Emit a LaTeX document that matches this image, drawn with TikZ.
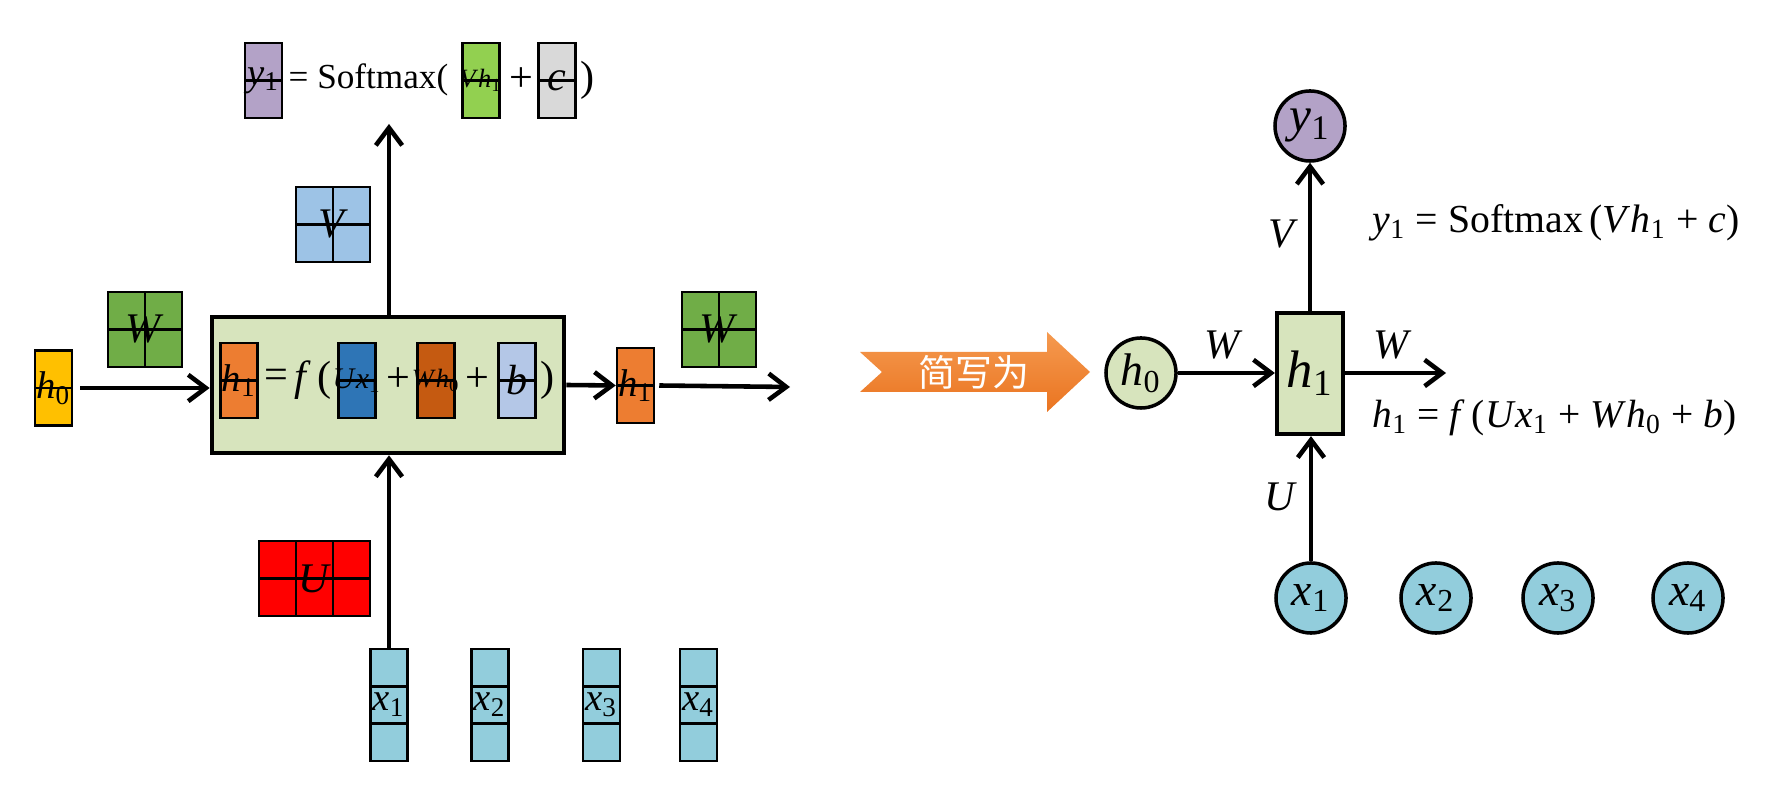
\documentclass[tikz,border=0pt]{standalone}
\usepackage{fontspec}
\setmainfont{Liberation Serif}[ItalicFont={Liberation Serif Italic}]
\newfontfamily\cjk{Noto Sans CJK SC}
\usetikzlibrary{arrows.meta,calc}
\newcommand{\iv}[2]{\textit{#1}\textsubscript{#2}}
\newcommand{\fsz}[1]{\fontsize{#1}{#1}\selectfont}
\newcommand{\zb}[1]{\makebox[0pt]{#1}}
\definecolor{cYel}{HTML}{FFC000}
\definecolor{cWg}{HTML}{70AD47}
\definecolor{cBig}{HTML}{D7E4BD}
\definecolor{cOr}{HTML}{ED7D31}
\definecolor{cBl}{HTML}{2E75B6}
\definecolor{cDor}{HTML}{C55A11}
\definecolor{cLb}{HTML}{B4C7E7}
\definecolor{cV}{HTML}{9DC3E6}
\definecolor{cPu}{HTML}{B3A2C7}
\definecolor{cGr}{HTML}{92D050}
\definecolor{cGy}{HTML}{D9D9D9}
\definecolor{cX}{HTML}{92CDDC}
\definecolor{cArT}{HTML}{F59A50}
\definecolor{cArB}{HTML}{EA7420}
\tikzset{
  bl/.style={line width=0.7pt},
  cellbox/.style={draw, bl, inner sep=0pt, minimum width=0.37cm, minimum height=0.75cm, font=\fsz{11}},
  hline/.style={path picture={\draw[bl] (path picture bounding box.west) -- (path picture bounding box.east);}},
  sqgrid/.style={draw, bl, inner sep=0pt, minimum width=0.74cm, minimum height=0.75cm, font=\fsz{12},
    path picture={\draw[bl] (path picture bounding box.west) -- (path picture bounding box.east)
      (path picture bounding box.north) -- (path picture bounding box.south);}},
  ugrid/.style={draw, bl, inner sep=0pt, minimum width=1.11cm, minimum height=0.75cm, font=\fsz{12},
    path picture={\draw[bl] (path picture bounding box.west) -- (path picture bounding box.east)
      ($(path picture bounding box.north west)!1/3!(path picture bounding box.north east)$) -- ($(path picture bounding box.south west)!1/3!(path picture bounding box.south east)$)
      ($(path picture bounding box.north west)!2/3!(path picture bounding box.north east)$) -- ($(path picture bounding box.south west)!2/3!(path picture bounding box.south east)$);}},
  xgrid/.style={draw, bl, fill=cX, inner sep=0pt, minimum width=0.37cm, minimum height=1.12cm, font=\fsz{11},
    path picture={\draw[bl]
      ($(path picture bounding box.north west)!1/3!(path picture bounding box.south west)$) -- ($(path picture bounding box.north east)!1/3!(path picture bounding box.south east)$)
      ($(path picture bounding box.north west)!2/3!(path picture bounding box.south west)$) -- ($(path picture bounding box.north east)!2/3!(path picture bounding box.south east)$);}},
  txt/.style={inner sep=0pt, font=\fsz{12}},
  arr/.style={-{Straight Barb[length=5pt,width=7.5pt]}, line width=1.3pt},
  circ/.style={circle, draw, line width=1pt, inner sep=0pt, minimum size=0.70cm, font=\fsz{13}},
  lab/.style={inner sep=0pt, font=\fsz{12}},
}
\begin{document}
\begin{tikzpicture}[x=0.01cm, y=-0.01cm]
\useasboundingbox (0,0) rectangle (1773,795);
% ---------- left: detailed view ----------
\node[cellbox, hline, fill=cYel] (h0b) at (53.5,388) {\zb{\iv{h}{0}}};
\node[sqgrid, fill=cWg] (W1) at (145,329.5) {\zb{\textit{W}}};
\node[draw, line width=1.3pt, fill=cBig, inner sep=0pt, minimum width=3.52cm, minimum height=1.36cm] (big) at (388,385) {};
\node[cellbox, hline, fill=cOr] (h1in) at (239,380.5) {\zb{\iv{h}{1}}};
\node[txt] (eq1) at (276,379) {=};
\node[txt] (fpar) at (313,380) {\textit{f}\,(};
\node[cellbox, hline, fill=cBl, font=\fsz{8.5}] (ux) at (357,380.5) {\zb{\textit{U}\iv{x}{1}}};
\node[txt] (pl1) at (398,380) {+};
\node[cellbox, hline, fill=cDor, font=\fsz{7.5}] (wh) at (436,380.5) {\zb{\textit{W}\iv{h}{0}}};
\node[txt] (pl2) at (477,380) {+};
\node[cellbox, hline, fill=cLb, font=\fsz{12}] (bb) at (517,380.5) {\zb{\textit{b}}};
\node[txt] (rp1) at (548,380) {)};
\node[cellbox, hline, fill=cOr] (h1o) at (635.5,385.5) {\zb{\iv{h}{1}}};
\node[sqgrid, fill=cWg] (W2) at (719,329.5) {\zb{\textit{W}}};
\coordinate (end1) at (790,387);
\node[sqgrid, fill=cV] (Vb) at (333,224.5) {\zb{\textit{V}}};
\coordinate (top1) at (389,124);
% top formula
\node[cellbox, hline, fill=cPu] (y1b) at (263.5,80.5) {\zb{\iv{y}{1}}};
\node[txt, anchor=west, font=\fsz{10}] (soft1) at (288,80) {= Softmax(};
\node[cellbox, hline, fill=cGr, font=\fsz{7.5}] (vh) at (481,80.5) {\zb{\textit{V}\iv{h}{1}}};
\node[txt] (pl3) at (521,80) {+};
\node[cellbox, hline, fill=cGy, font=\fsz{12}] (cb) at (557,80.5) {\zb{\textit{c}}};
\node[txt] (rp2) at (588,80) {)};
% U and inputs
\node[ugrid, fill=red] (Ub) at (314.5,578.5) {\zb{\textit{U}}};
\node[xgrid] (x1b) at (389,705) {\zb{\iv{x}{1}}};
\node[xgrid] (x2b) at (490,705) {\zb{\iv{x}{2}}};
\node[xgrid] (x3b) at (601.5,705) {\zb{\iv{x}{3}}};
\node[xgrid] (x4b) at (698.5,705) {\zb{\iv{x}{4}}};
% connectors
\draw[arr] ([xshift=0.07cm]h0b.east) -- (big.west |- h0b.east);
\draw[arr] (big.east) -- (h1o.west);
\draw[arr] ([xshift=0.04cm]h1o.east) -- (end1);
\draw[arr] (big.north -| top1) -- (top1);
\draw[arr] (x1b.north) -- (x1b.north |- big.south);
% ---------- middle arrow ----------
\shade[top color=cArT, bottom color=cArB] (860,352) -- (1047,352) -- (1047,332) -- (1090,372) -- (1047,412) -- (1047,392) -- (860,392) -- (882,372) -- cycle;
\node[text=white, inner sep=0pt, font=\cjk\fsz{10.5}] (abbr) at (974,372) {简写为};
% ---------- right: compact view ----------
\node[circ, fill=cBig] (h0c) at (1141,373) {\iv{h}{0}};
\node[draw, line width=1.2pt, fill=cBig, inner sep=0pt, minimum width=0.66cm, minimum height=1.21cm, font=\fsz{15}] (h1r) at (1310,373.5) {\iv{h}{1}};
\node[circ, fill=cPu, font=\fsz{14}] (y1c) at (1310,126) {\iv{y}{1}};
\node[circ, fill=cX] (x1c) at (1311,598) {\iv{x}{1}};
\node[circ, fill=cX] (x2c) at (1436,598) {\iv{x}{2}};
\node[circ, fill=cX] (x3c) at (1558,598) {\iv{x}{3}};
\node[circ, fill=cX] (x4c) at (1688,598) {\iv{x}{4}};
\coordinate (endr) at (1446,373);
\draw[arr] (h0c.east) -- (h1r.west |- h0c.east);
\draw[arr] (h1r.east |- h0c.east) -- (endr);
\draw[arr] (h1r.north) -- (y1c.south);
\draw[arr] (x1c.north) -- (x1c.north |- h1r.south);
\node[lab] (lW1) at (1224,345) {\textit{W}};
\node[lab] (lW2) at (1393,345) {\textit{W}};
\node[lab] (lV) at (1283,234) {\textit{V}};
\node[lab] (lU) at (1281,497) {\textit{U}};
\node[inner sep=0pt, anchor=west, font=\fsz{11.3}] (fy) at (1372,223) {\iv{y}{1} = Softmax\,(\textit{V}\iv{h}{1} + \textit{c})};
\node[inner sep=0pt, anchor=west, font=\fsz{11.2}] (fh) at (1372,418) {\iv{h}{1} = \textit{f}\,(\textit{U}\iv{x}{1} + \textit{W}\iv{h}{0} + \textit{b})};
\end{tikzpicture}
\end{document}
